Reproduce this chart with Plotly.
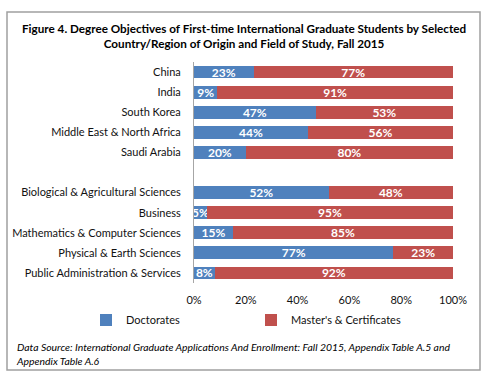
import plotly.graph_objects as go

categories = ["China", "India", "South Korea", "Middle East & North Africa", "Saudi Arabia", " ",
              "Biological & Agricultural Sciences", "Business", "Mathematics & Computer Sciences",
              "Physical & Earth Sciences", "Public Administration & Services"]
doctorates = [23, 9, 47, 44, 20, None, 52, 5, 15, 77, 8]
masters = [77, 91, 53, 56, 80, None, 48, 95, 85, 23, 92]
x_ticks = [0, 20, 40, 60, 80, 100]
x_tick_labels = ["0%", "20%", "40%", "60%", "80%", "100%"]

W, H = 488, 374
L, R, T, B = 194, 453, 62, 283
pw, ph = R - L, B - T

def px(x):
    return (x - L) / pw

def py(y):
    return (B - y) / ph

FONT = "Lato, Open Sans, sans-serif"

def lab(vals):
    return [f"<b>{v}%</b>" if v is not None else "" for v in vals]

fig = go.Figure()
fig.add_trace(go.Bar(y=categories, x=doctorates, orientation="h", name="Doctorates",
                     marker=dict(color="#4F81BD", line=dict(width=0)),
                     text=lab(doctorates), textposition="inside", insidetextanchor="middle",
                     textangle=0, constraintext="none",
                     textfont=dict(color="white", size=12, family=FONT), cliponaxis=False))
fig.add_trace(go.Bar(y=categories, x=masters, orientation="h", name="Master's & Certificates",
                     marker=dict(color="#C0504D", line=dict(width=0)),
                     text=lab(masters), textposition="inside", insidetextanchor="middle",
                     textangle=0, constraintext="none",
                     textfont=dict(color="white", size=12, family=FONT), cliponaxis=False))

fig.update_layout(
    barmode="stack", bargap=0.36,
    width=W, height=H, autosize=False,
    margin=dict(l=L, r=W - R, t=T, b=H - B, pad=0, autoexpand=False),
    paper_bgcolor="white", plot_bgcolor="white",
    font=dict(family=FONT, size=11, color="#111"),
    uniformtext=dict(minsize=12, mode="show"),
    showlegend=True,
    legend=dict(orientation="h", x=px(86), y=py(320), xanchor="left", yanchor="middle",
                entrywidth=120, font=dict(size=11, family=FONT), itemwidth=30,
                traceorder="normal"),
    xaxis=dict(range=[0, 100], tickvals=x_ticks, ticktext=x_tick_labels, showgrid=False,
               zeroline=False, showline=False, ticks="", tickfont=dict(size=11),
               fixedrange=True, automargin=False, ticklabelstandoff=9),
    yaxis=dict(categoryorder="array", categoryarray=categories, autorange="reversed",
               showline=True, linecolor="#A6A6A6", linewidth=1, ticks="", showgrid=False,
               tickfont=dict(size=11), ticklabelstandoff=10, automargin=False),
    shapes=[dict(type="rect", xref="paper", yref="paper", x0=px(7), x1=px(480), y0=py(370), y1=py(12),
                 line=dict(color="#A0A0A0", width=1.5), fillcolor="rgba(0,0,0,0)", layer="above")],
    annotations=[
        dict(text="<b>Figure 4. Degree Objectives of First-time International Graduate Students by Selected<br>Country/Region of Origin and Field of Study, Fall 2015</b>",
             xref="paper", yref="paper", x=px(244), y=py(35), xanchor="center", yanchor="middle",
             showarrow=False, font=dict(size=11.7, family=FONT, color="#000"), align="center"),
        dict(text="<i>Data Source: International Graduate Applications And Enrollment: Fall 2015, Appendix Table A.5 and<br>Appendix Table A.6</i>",
             xref="paper", yref="paper", x=px(14), y=py(354), xanchor="left", yanchor="middle",
             showarrow=False, font=dict(size=10.4, family=FONT, color="#000"), align="left"),
    ],
)

fig.write_html("out.html", config={"displayModeBar": False},
               post_script="document.body.style.margin='0px';")
